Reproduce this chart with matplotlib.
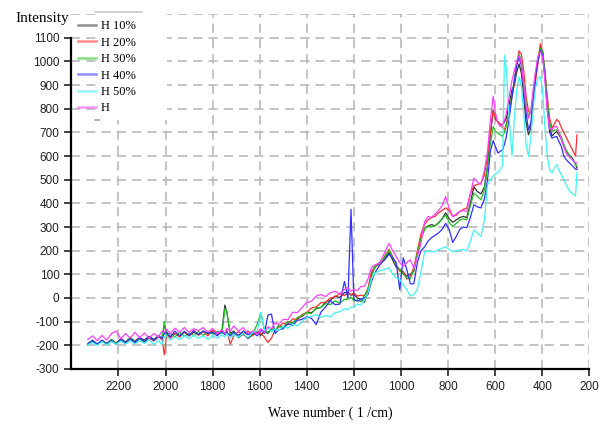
import matplotlib
matplotlib.use('Agg')
import matplotlib.pyplot as plt
from matplotlib.patches import Rectangle


# wave numbers (1/cm), shared by all six spectra
wavenumber = [
    2330, 2310, 2290, 2270, 2250, 2230, 2210, 2190, 2170, 2150,
    2130, 2110, 2090, 2070, 2050, 2030, 2015, 2005, 1995, 1980,
    1960, 1940, 1920, 1900, 1880, 1860, 1840, 1820, 1800, 1780,
    1760, 1748, 1740, 1725, 1710, 1690, 1670, 1650, 1630, 1610,
    1595, 1580, 1565, 1550, 1535, 1520, 1500, 1480, 1460, 1440,
    1420, 1400, 1380, 1360, 1340, 1320, 1300, 1280, 1260, 1240,
    1225, 1212, 1200, 1185, 1170, 1155, 1140, 1125, 1110, 1090,
    1070, 1050, 1035, 1020, 1005, 990, 975, 960, 945, 930,
    915, 900, 885, 870, 855, 840, 825, 810, 795, 780,
    765, 750, 735, 720, 705, 690, 675, 660, 645, 632,
    620, 608, 598, 588, 578, 568, 560, 552, 540, 528,
    518, 508, 498, 488, 478, 468, 458, 448, 438, 428,
    418, 408, 398, 388, 378, 368, 358, 348, 338, 328,
    318, 308, 298, 288, 278, 268, 258, 252,
]

h10 = [
    -195, -178, -196, -180, -192, -176, -190, -172, -186, -170,
    -182, -168, -178, -162, -175, -160, -170, -115, -145, -165,
    -150, -162, -142, -160, -145, -155, -140, -152, -138, -150,
    -135, -30, -60, -150, -140, -168, -150, -172, -155, -145,
    -158, -140, -150, -130, -138, -118, -125, -100, -108, -85,
    -78, -60, -62, -45, -40, -18, -10, 8, 2, 22,
    25, 12, 15, 0, -5, -18, 30, 100, 130, 150,
    165, 193, 160, 130, 120, 110, 92, 100, 113, 190,
    250, 290, 305, 310, 305, 318, 335, 360, 335, 320,
    330, 340, 345, 340, 400, 470, 450, 440, 470, 560,
    690, 795, 755, 745, 735, 732, 745, 760, 820, 880,
    900, 955, 990, 950, 850, 740, 690, 720, 830, 930,
    1000, 1058, 1045, 950, 820, 720, 685, 695, 704, 690,
    670, 645, 620, 605, 599, 585, 565, 550,
]

h20 = [
    -196, -184, -198, -182, -195, -180, -194, -178, -190, -176,
    -190, -172, -186, -170, -182, -165, -175, -240, -150, -170,
    -150, -165, -145, -160, -140, -158, -142, -160, -138, -155,
    -140, -152, -135, -195, -160, -142, -158, -140, -160, -138,
    -150, -165, -188, -170, -135, -125, -105, -112, -88, -92,
    -70, -62, -42, -38, -20, -18, 0, 5, 18, 10,
    22, 15, 20, 8, 12, 10, 40, 110, 135, 140,
    175, 206, 175, 135, 113, 110, 80, 90, 130, 200,
    270, 310, 330, 340, 345, 360, 370, 381, 370, 345,
    350, 365, 375, 380, 440, 475, 480, 485, 520, 600,
    700, 790, 760, 745, 735, 720, 711, 740, 790, 850,
    907, 990, 1045, 1030, 960, 851, 790, 780, 840, 920,
    990, 1075, 1040, 960, 850, 760, 720, 735, 755, 745,
    720, 700, 680, 660, 640, 620, 600, 690,
]

h30 = [
    -198, -180, -196, -182, -194, -176, -192, -178, -190, -165,
    -185, -170, -188, -165, -180, -162, -170, -100, -160, -150,
    -165, -145, -162, -148, -160, -142, -158, -145, -152, -140,
    -150, -45, -55, -155, -145, -165, -140, -155, -150, -110,
    -62, -135, -145, -130, -140, -120, -125, -100, -108, -82,
    -75, -62, -66, -42, -40, -24, -28, -12, -22, -6,
    -5, 4, -12, -8, -16, 10, 36, 90, 133, 150,
    170, 203, 170, 140, 120, 100, 85, 80, 120, 190,
    250, 290, 305, 300, 305, 318, 335, 350, 320, 302,
    315, 330, 335, 330, 390, 444, 430, 415, 460, 560,
    650, 725, 705, 697, 690, 683, 700, 730, 780, 860,
    920, 990, 1033, 1000, 900, 820, 767, 790, 870, 950,
    1010, 1054, 1040, 950, 830, 740, 705, 710, 711, 700,
    680, 650, 625, 610, 595, 580, 565, 557,
]

h40 = [
    -192, -180, -195, -178, -194, -180, -196, -175, -190, -172,
    -188, -168, -185, -165, -180, -162, -172, -150, -145, -165,
    -140, -160, -142, -158, -138, -155, -140, -150, -145, -160,
    -140, -155, -145, -160, -145, -158, -140, -155, -145, -160,
    -135, -150, -72, -68, -150, -135, -130, -110, -115, -95,
    -90, -80, -86, -112, -60, -38, -12, -28, -26, 70,
    0, 375, -5, -14, -6, 0, 15, 70, 106, 140,
    160, 185, 170, 150, 36, 170, 120, 60, 60, 150,
    200, 215, 240, 255, 265, 275, 290, 315, 290, 235,
    260, 290, 300, 297, 340, 394, 385, 381, 420, 500,
    620, 665, 640, 613, 620, 627, 650, 683, 760, 850,
    920, 985, 1019, 980, 880, 780, 711, 740, 840, 940,
    1000, 1047, 1030, 930, 800, 700, 676, 680, 683, 660,
    640, 600, 585, 575, 565, 555, 545, 543,
]

h50 = [
    -198, -188, -200, -185, -198, -184, -196, -182, -195, -180,
    -195, -180, -192, -178, -196, -180, -198, -165, -160, -178,
    -165, -175, -160, -172, -158, -170, -160, -175, -158, -170,
    -155, -165, -150, -170, -155, -165, -150, -168, -145, -140,
    -60, -138, -125, -145, -130, -138, -120, -128, -110, -118,
    -100, -82, -78, -70, -82, -74, -80, -62, -58, -46,
    -50, -38, -40, -26, -30, -10, 23, 80, 106, 115,
    120, 128, 100, 85, 78, 55, 36, 8, 15, 36,
    110, 190, 200, 195, 196, 205, 210, 217, 205, 196,
    200, 203, 205, 200, 240, 288, 275, 260, 330, 480,
    500, 515, 525, 530, 543, 560, 1026, 970, 760, 600,
    760, 880, 935, 900, 780, 650, 599, 680, 800, 890,
    930, 935, 880, 720, 600, 540, 529, 550, 564, 540,
    520, 501, 480, 460, 445, 440, 431, 529,
]

h0 = [
    -175, -160, -180, -158, -178, -150, -140, -172, -150, -170,
    -145, -168, -148, -170, -150, -165, -140, -145, -132, -150,
    -128, -145, -125, -145, -130, -138, -125, -145, -128, -150,
    -135, -150, -128, -140, -118, -140, -125, -150, -140, -155,
    -130, -145, -122, -130, -105, -112, -90, -92, -60, -62,
    -40, -19, -14, 8, 15, 6, 22, 28, 18, 36,
    44, 28, 36, 32, 48, 50, 80, 130, 140, 147,
    190, 231, 200, 175, 150, 133, 150, 161, 126, 175,
    230, 320, 345, 340, 355, 370, 390, 429, 380, 345,
    355, 366, 370, 365, 440, 507, 490, 480, 540, 620,
    750, 853, 780, 740, 725, 735, 753, 780, 850, 920,
    960, 1000, 1026, 990, 900, 810, 760, 790, 880, 960,
    1020, 1040, 1020, 920, 790, 715, 711, 725, 725, 700,
    670, 640, 613, 600, 590, 580, 571, 571,
]

labels = ['H 10%', 'H 20%', 'H 30%', 'H 40%', 'H 50%', 'H']
colors = ['#333333', '#ff3030', '#20c020', '#3030ff', '#40f4f4', '#ff40ff']

xticks = [2200, 2000, 1800, 1600, 1400, 1200, 1000, 800, 600, 400, 200]
yticks = [-300, -200, -100, 0, 100, 200, 300, 400, 500, 600, 700, 800, 900, 1000, 1100]


def main():
    plt.rcParams['axes.unicode_minus'] = False
    fig = plt.figure(figsize=(6, 4.29), dpi=100)
    ax = fig.add_axes([0.119, 0.140, 0.863, 0.827])

    series = [h10, h20, h30, h40, h50, h0]
    for ys, lab, col in zip(series, labels, colors):
        ax.plot(wavenumber, ys, color=col, lw=0.9, label=lab)

    ax.set_xlim(2400, 200)
    ax.set_ylim(-300, 1200)
    ax.set_xticks(xticks)
    ax.set_yticks(yticks)

    # dashed grey grid, plus the extra line at the top of the frame
    ax.grid(True, color='#b4b4b4', lw=1.1, ls=(0, (6, 4)))
    ax.axhline(1200, color='#b4b4b4', lw=1.1, ls=(0, (6, 4)), zorder=0)
    ax.set_axisbelow(True)

    ax.spines['top'].set_visible(False)
    ax.spines['right'].set_visible(False)
    ax.spines['left'].set_bounds(-300, 1100)
    ax.spines['left'].set_linewidth(1.6)
    ax.spines['bottom'].set_linewidth(1.6)

    ax.tick_params(axis='both', direction='out', length=5, width=1.3,
                   color='#333333', labelsize=8.5, labelcolor='#222222')
    for lbl in ax.get_xticklabels() + ax.get_yticklabels():
        lbl.set_family('Liberation Sans')

    # white patch behind the legend text (hides the grid there), with a
    # bit of grey border at top and bottom like the original export
    box = Rectangle((0.160, 0.720), 0.118, 0.252, transform=fig.transFigure,
                    facecolor='white', edgecolor='none', zorder=1.5)
    ax.add_patch(box)
    ax.plot([0.158, 0.237], [0.972, 0.972], transform=fig.transFigure,
            color='#c8c8c8', lw=1.2, zorder=1.6, clip_on=False)
    ax.plot([0.158, 0.165], [0.720, 0.720], transform=fig.transFigure,
            color='#a0a0a0', lw=1.2, zorder=1.6, clip_on=False)

    handles = ax.get_lines()[:len(labels)]
    leg = ax.legend(handles, labels, loc='upper left', bbox_to_anchor=(0.0, 1.0),
                    frameon=False, handlelength=1.5, handletextpad=0.35,
                    labelspacing=0.35, borderaxespad=0.1,
                    prop={'family': 'Liberation Serif', 'size': 9})
    for line in leg.get_lines():
        line.set_linewidth(1.8)
        line.set_alpha(0.55)

    fig.text(0.025, 0.958, 'Intensity', family='Liberation Serif',
             fontsize=11, va='center', ha='left')
    fig.text(0.55, 0.037, 'Wave number ( 1 /cm)', family='Liberation Serif',
             fontsize=10, va='center', ha='center')

    fig.savefig('out.png', dpi=100)


if __name__ == '__main__':
    main()
